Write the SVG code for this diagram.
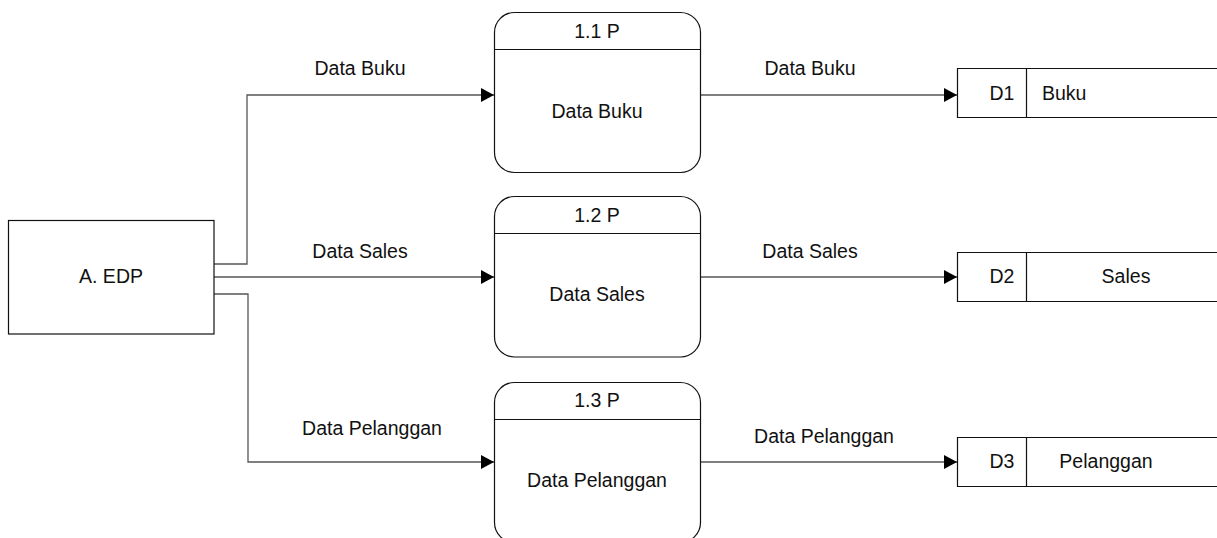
<svg xmlns="http://www.w3.org/2000/svg" width="1217" height="538" viewBox="0 0 1217 538">
<defs>
<marker id="arr" markerWidth="14" markerHeight="14" refX="13" refY="7" orient="auto" markerUnits="userSpaceOnUse">
<path d="M0,0 L13,7 L0,14 Z" fill="#000"/>
</marker>
<style>
text{font-family:"Liberation Sans",Arial,sans-serif;font-size:19.5px;fill:#111}
.box{fill:#fff;stroke:#111;stroke-width:1.2}
.ln{fill:none;stroke:#111;stroke-width:1.2}
.c{fill:none;stroke:#555;stroke-width:1.3}
.m{text-anchor:middle}
</style>
</defs>
<rect width="1217" height="538" fill="#fff"/>
<g id="connectors">
<path class="c" d="M214,264 H247 V95 H494" marker-end="url(#arr)"/>
<path class="c" d="M214,277 H494" marker-end="url(#arr)"/>
<path class="c" d="M214,294 H248 V462 H494" marker-end="url(#arr)"/>
<path class="c" d="M700,95 H957" marker-end="url(#arr)"/>
<path class="c" d="M700,277 H957" marker-end="url(#arr)"/>
<path class="c" d="M700,462 H957" marker-end="url(#arr)"/>
<text class="m" x="360" y="75">Data Buku</text>
<text class="m" x="360" y="258">Data Sales</text>
<text class="m" x="372" y="435">Data Pelanggan</text>
<text class="m" x="810" y="75">Data Buku</text>
<text class="m" x="810" y="258">Data Sales</text>
<text class="m" x="824" y="443">Data Pelanggan</text>
</g>
<g id="edp">
<rect class="box" x="8.5" y="220.5" width="205.5" height="113.5"/>
<text class="m" x="111" y="283">A. EDP</text>
</g>
<g id="p11">
<rect class="box" x="494.5" y="12.5" width="206" height="160" rx="20" ry="20"/>
<line class="ln" x1="494.5" y1="49.5" x2="700.5" y2="49.5"/>
<text class="m" x="597" y="38">1.1 P</text>
<text class="m" x="597" y="118">Data Buku</text>
</g>
<g id="p12">
<rect class="box" x="494.5" y="196.5" width="206" height="160.5" rx="20" ry="20"/>
<line class="ln" x1="494.5" y1="233.5" x2="700.5" y2="233.5"/>
<text class="m" x="597" y="222">1.2 P</text>
<text class="m" x="597" y="301">Data Sales</text>
</g>
<g id="p13">
<rect class="box" x="494.5" y="382.5" width="206" height="160" rx="20" ry="20"/>
<line class="ln" x1="494.5" y1="419.5" x2="700.5" y2="419.5"/>
<text class="m" x="597" y="407">1.3 P</text>
<text class="m" x="597" y="487">Data Pelanggan</text>
</g>
<g id="d1">
<path class="ln" d="M1217,68.5 H957.5 V117.5 H1217 M1026.5,68.5 V117.5"/>
<text class="m" x="1002" y="100">D1</text>
<text x="1042" y="100">Buku</text>
</g>
<g id="d2">
<path class="ln" d="M1217,252.5 H957.5 V301.5 H1217 M1026.5,252.5 V301.5"/>
<text class="m" x="1002" y="283">D2</text>
<text class="m" x="1126" y="283">Sales</text>
</g>
<g id="d3">
<path class="ln" d="M1217,437.5 H957.5 V486.5 H1217 M1026.5,437.5 V486.5"/>
<text class="m" x="1002" y="468">D3</text>
<text class="m" x="1106" y="468">Pelanggan</text>
</g>
</svg>
